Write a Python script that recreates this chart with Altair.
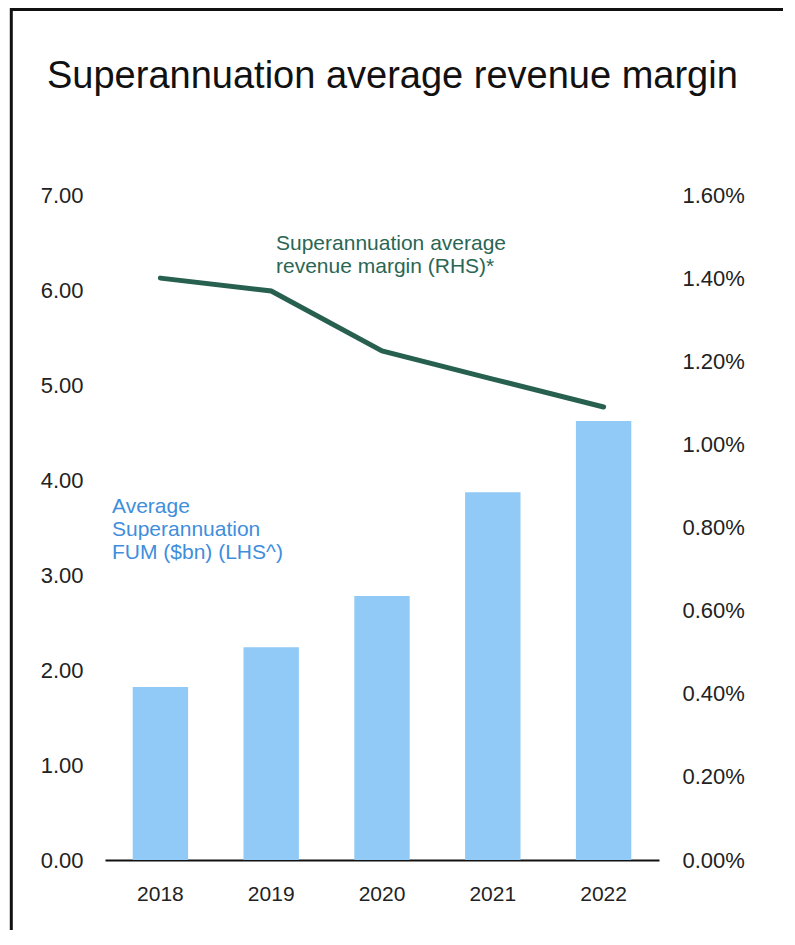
import altair as alt
import pandas as pd

years = ["2018", "2019", "2020", "2021", "2022"]
fum_bn = [1.82, 2.24, 2.78, 3.87, 4.62]
margin_pct = [0.01400, 0.01369, 0.01225, 0.01157, 0.01090]
title_text = "Superannuation average revenue margin"
fum_label = ["Average", "Superannuation", "FUM ($bn) (LHS^)"]
margin_label = ["Superannuation average", "revenue margin (RHS)*"]

df = pd.DataFrame({"year": years, "fum": fum_bn, "margin": margin_pct})

FONT = "Liberation Sans"
W, H = 554, 665
PAD_L, PAD_T = 97, 187

x_enc = alt.X("year:N", title=None,
              scale=alt.Scale(paddingInner=0.5, paddingOuter=0.25),
              axis=alt.Axis(labelAngle=0, ticks=False, domain=True, domainColor="#111111",
                            domainWidth=2, labelFontSize=21, labelPadding=23,
                            labelColor="#222222", labelFont=FONT, grid=False))

bars = alt.Chart(df).mark_bar(color="#92CAF7").encode(
    x=x_enc,
    y=alt.Y("fum:Q", title=None,
            scale=alt.Scale(domain=[0, 7], nice=False),
            axis=alt.Axis(values=[0, 1, 2, 3, 4, 5, 6, 7], format=".2f", grid=False,
                          ticks=False, domain=False, labelFontSize=22, labelPadding=22,
                          labelColor="#222222", labelFont=FONT, orient="left")),
)

line = alt.Chart(df).mark_line(color="#27604F", strokeWidth=5, strokeCap="round").encode(
    x=alt.X("year:N"),
    y=alt.Y("margin:Q", title=None,
            scale=alt.Scale(domain=[0, 0.016], nice=False),
            axis=alt.Axis(values=[0, 0.002, 0.004, 0.006, 0.008, 0.010, 0.012, 0.014, 0.016],
                          format=".2%", grid=False, ticks=False, domain=False,
                          labelFontSize=22, labelPadding=23, labelColor="#222222",
                          labelFont=FONT, orient="right")),
)

blue_txt = alt.Chart(pd.DataFrame({"t": [fum_label]})).mark_text(
    align="left", baseline="top", font=FONT, fontSize=21, lineHeight=23, color="#3F8EDC"
).encode(text="t", x=alt.value(7), y=alt.value(301))

green_txt = alt.Chart(pd.DataFrame({"t": [margin_label]})).mark_text(
    align="left", baseline="top", font=FONT, fontSize=21, lineHeight=23, color="#2A6654"
).encode(text="t", x=alt.value(171), y=alt.value(38))

title_txt = alt.Chart(pd.DataFrame({"t": [title_text]})).mark_text(
    align="left", baseline="alphabetic", font=FONT, fontSize=38, color="#111111"
).encode(text="t", x=alt.value(-58), y=alt.value(-107))

border_left = alt.Chart(pd.DataFrame({"a": [0]})).mark_rule(color="#111111", strokeWidth=3).encode(
    x=alt.value(-PAD_L + 3.3), y=alt.value(-PAD_T), y2=alt.value(H + 100))
border_top = alt.Chart(pd.DataFrame({"a": [0]})).mark_rule(color="#111111", strokeWidth=3).encode(
    y=alt.value(-PAD_T + 1.5), x=alt.value(-PAD_L + 2), x2=alt.value(W + 160))

chart = alt.layer(bars, line, blue_txt, green_txt, title_txt, border_left, border_top).resolve_scale(
    y="independent"
).properties(
    width=W, height=H,
    padding={"left": PAD_L, "top": PAD_T, "right": 124, "bottom": 70},
    autosize=alt.AutoSizeParams(type="none"),
    background="white",
).configure_view(stroke=None)

chart.save("out.html", embed_options={"renderer": "svg", "actions": False})
